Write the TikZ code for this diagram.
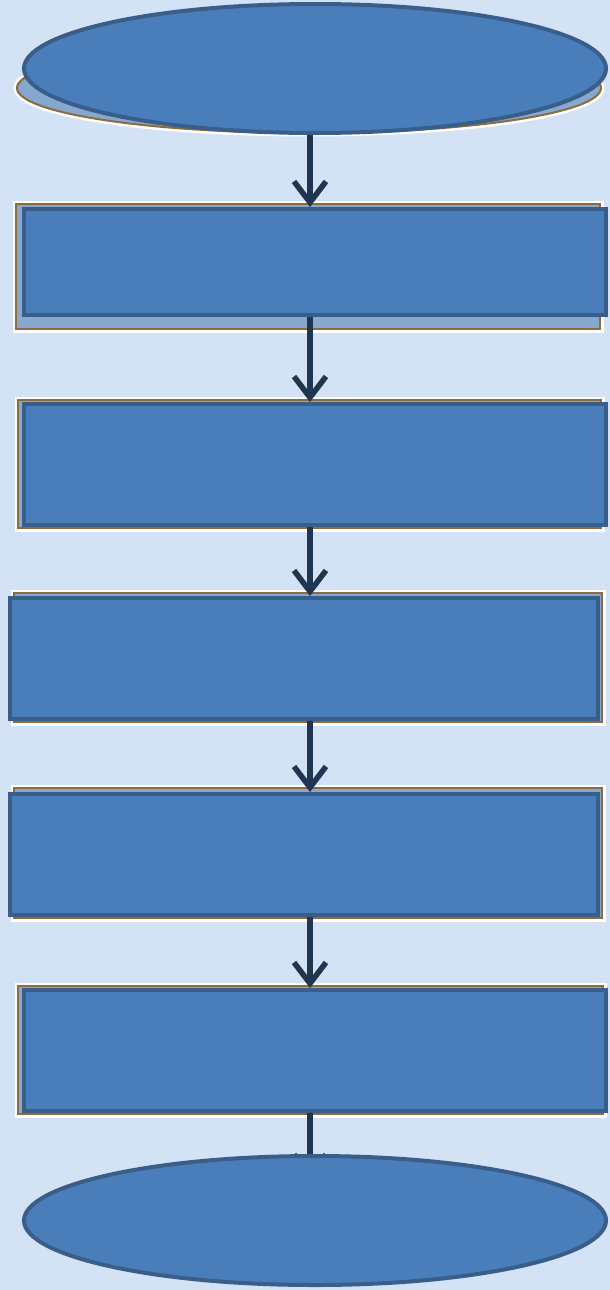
\documentclass[tikz,border=0pt]{standalone}
\usepackage{tikz}
\usetikzlibrary{shapes.geometric, arrows.meta, positioning, calc, backgrounds}
\usepackage{xcolor}

\definecolor{boxfill}{HTML}{4A7EBB}
\definecolor{boxedge}{HTML}{3A5E8A}
\definecolor{arrowcol}{HTML}{1F3550}
\definecolor{shadefill}{HTML}{86A8CF}
\definecolor{shadeedge}{HTML}{8C6B3C}
\definecolor{paper}{HTML}{D3E2F4}

\begin{document}
\begin{tikzpicture}[
    x=1pt, y=1pt,
    block/.style={rectangle, draw=boxedge, fill=boxfill, line width=4pt, inner sep=0pt, minimum width=582pt, minimum height=121pt},
    term/.style={ellipse, draw=boxedge, fill=boxfill, line width=4pt, inner sep=0pt, minimum width=582pt, minimum height=129pt},
    line/.style={draw=arrowcol, line width=5.5pt, -{Straight Barb[length=21pt, width=32pt]}},
    backshade/.style={draw=shadeedge, fill=shadefill, line width=2pt, preaction={draw=white, line width=7pt}}
]
    \useasboundingbox (0,0) rectangle (610,-1290);

    % Nodes
    \node (start) [term] at (315,-68.5) {};
    \node (box1) [block, minimum height=106pt, below=72pt of start] {};
    \node (box2) [block, below=85pt of box1] {};
    \node (box3) [block, minimum width=588pt, below=69pt of box2, xshift=-11pt] {};
    \node (box4) [block, minimum width=588pt, below=71pt of box3] {};
    \node (box5) [block, below=71pt of box4, xshift=11pt] {};
    \node (stop) [term, below=41pt of box5] {};
    \coordinate (axis) at (310,0);

    \begin{scope}[on background layer]
        \fill[paper] (0,0) rectangle (610,-1290);
        % Shadows
        \path[backshade] ($(start.center)+(-6,-19.5)$) ellipse [x radius=292, y radius=45];
        \path[backshade] ($(box1.north west)+(-6,3)$) rectangle ($(box1.south east)+(-8,-12)$);
        \path[backshade] ($(box2.north west)+(-4,2)$) rectangle ($(box2.south east)+(-7,-1)$);
        \path[backshade] ($(box3.north west)+(6,3)$) rectangle ($(box3.south east)+(2,-1)$);
        \path[backshade] ($(box4.north west)+(6,4)$) rectangle ($(box4.south east)+(2,-1)$);
        \path[backshade] ($(box5.north west)+(-4,2)$) rectangle ($(box5.south east)+(-5,-1)$);

        % Paths
        \path [line] (start.south -| axis) -- (box1.north -| axis);
        \path [line] (box1.south -| axis) -- (box2.north -| axis);
        \path [line] (box2.south -| axis) -- (box3.north -| axis);
        \path [line] (box3.south -| axis) -- (box4.north -| axis);
        \path [line] (box4.south -| axis) -- (box5.north -| axis);
        \path [line, shorten >=-26pt] (box5.south -| axis) -- (stop.north -| axis);
    \end{scope}
\end{tikzpicture}
\end{document}
